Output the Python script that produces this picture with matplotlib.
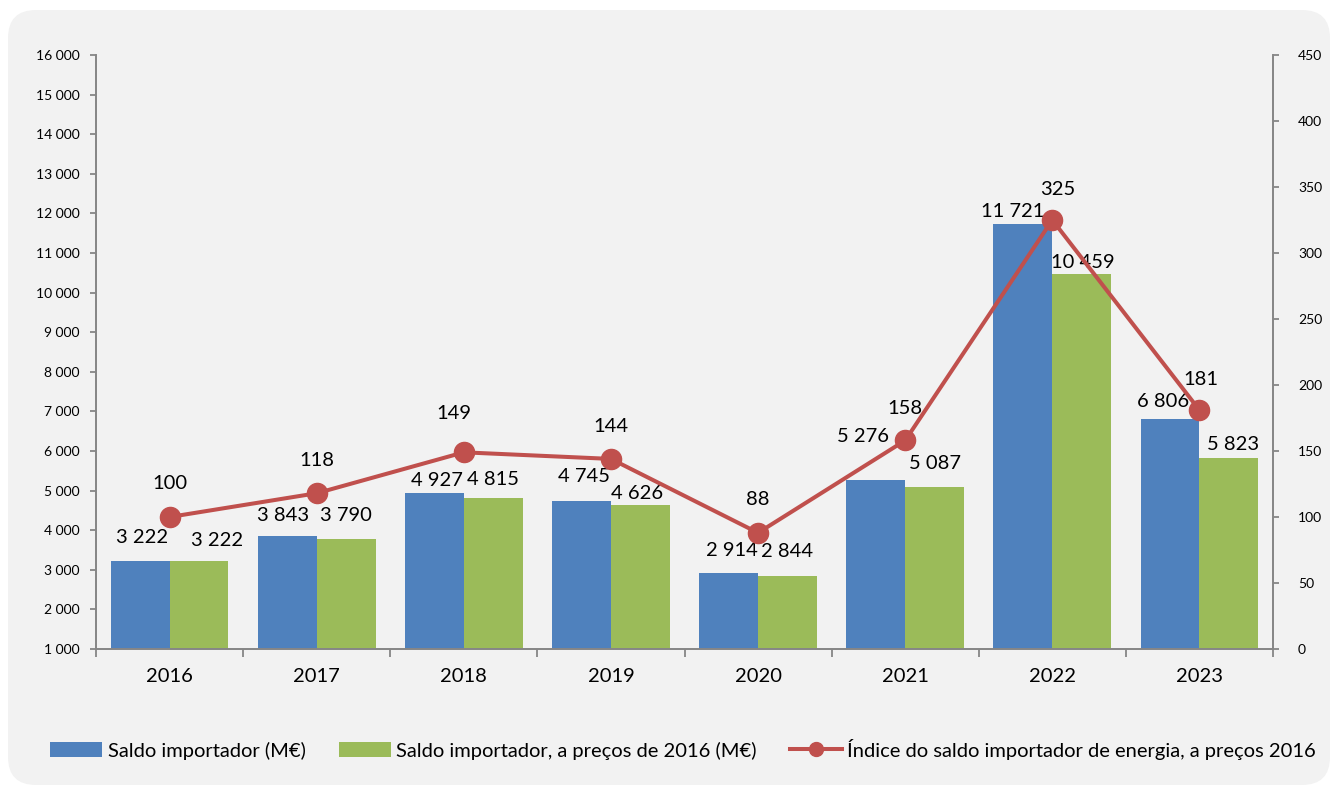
import matplotlib
matplotlib.use("Agg")
import matplotlib.pyplot as plt
from matplotlib.patches import FancyBboxPatch
from matplotlib.lines import Line2D
from matplotlib.patches import Patch
import numpy as np

plt.rcParams['font.family'] = ['Lato', 'DejaVu Sans']

anos = ['2016', '2017', '2018', '2019', '2020', '2021', '2022', '2023']
saldo = [3222, 3843, 4927, 4745, 2914, 5276, 11721, 6806]
saldo_2016 = [3222, 3790, 4815, 4626, 2844, 5087, 10459, 5823]
indice = [100, 118, 149, 144, 88, 158, 325, 181]

# label nudges in pixels (dx, dy) so the numbers don't collide with the line
off_saldo = [(2, 24), (-4, 21), (3, 13), (2, 24), (3, 23), (-13, 43), (-10, 13), (-7, 18)]
off_saldo16 = [(18, 21), (0, 23), (0, 18), (-3, 12), (0, 24), (0, 24), (1, 12), (4, 14)]
off_indice = [(0, 34), (0, 33), (-10, 39), (0, 32), (0, 33), (0, 32), (5, 31), (1, 31)]

AZUL = '#4f81bd'
VERDE = '#9bbb59'
VERMELHO = '#c0504d'
CINZA = '#868686'

def fmt(v):
    return f"{v:,}".replace(",", " ")

W, H = 1334, 789
fig = plt.figure(figsize=(W / 100, H / 100), dpi=100)
fig.patch.set_facecolor('white')

# rounded grey panel behind everything
fundo = FancyBboxPatch((0.08, 0.04), 13.22, 7.75,
                       boxstyle="round,pad=0,rounding_size=0.28",
                       transform=fig.dpi_scale_trans,
                       facecolor='#f2f2f2', edgecolor='none', zorder=-10)
fig.patches.append(fundo)

ax1 = fig.add_axes([96 / W, (H - 649) / H, (1273 - 96) / W, 594 / H])
ax1.set_facecolor('none')
ax2 = ax1.twinx()
ax2.set_facecolor('none')

x = np.arange(len(anos))
larg = 0.4
b1 = ax1.bar(x - larg / 2, [v - 1000 for v in saldo], larg, bottom=1000, color=AZUL, zorder=2)
b2 = ax1.bar(x + larg / 2, [v - 1000 for v in saldo_2016], larg, bottom=1000, color=VERDE, zorder=2)

for i in range(len(anos)):
    ax1.annotate(fmt(saldo[i]), (x[i] - larg / 2, saldo[i]), xytext=off_saldo[i],
                 textcoords='offset pixels', ha='center', va='center', fontsize=14.5)
    ax1.annotate(fmt(saldo_2016[i]), (x[i] + larg / 2, saldo_2016[i]), xytext=off_saldo16[i],
                 textcoords='offset pixels', ha='center', va='center', fontsize=14.5)

ax2.plot(x, indice, color=VERMELHO, lw=2.9, marker='o', markersize=14.5, zorder=3)
for i in range(len(anos)):
    ax2.annotate(str(indice[i]), (x[i], indice[i]), xytext=off_indice[i],
                 textcoords='offset pixels', ha='center', va='center', fontsize=14.5)

ax1.set_xlim(-0.5, len(anos) - 0.5)
ax1.set_ylim(1000, 16000)
ax2.set_ylim(0, 450)

ax1.set_yticks(range(1000, 16001, 1000))
ax1.set_yticklabels([fmt(v) for v in range(1000, 16001, 1000)])
ax2.set_yticks(range(0, 451, 50))

ax1.set_xticks(x)
ax1.set_xticklabels(anos)
ax1.set_xticks(np.arange(-0.5, len(anos), 1), minor=True)
ax1.tick_params(axis='x', which='major', length=0, pad=14, labelsize=14.5)
ax1.tick_params(axis='x', which='minor', length=6, width=1.3, color=CINZA)
ax1.tick_params(axis='y', length=4, width=1.3, color=CINZA, pad=8, labelsize=10)
ax2.tick_params(axis='y', length=4, width=1.3, color=CINZA, pad=14, labelsize=10)

for s in ['top', 'right']:
    ax1.spines[s].set_visible(False)
for s in ['top', 'left', 'bottom']:
    ax2.spines[s].set_visible(False)
for sp in [ax1.spines['left'], ax1.spines['bottom'], ax2.spines['right']]:
    sp.set_color(CINZA)
    sp.set_linewidth(1.4)

handles = [Patch(facecolor=AZUL), Patch(facecolor=VERDE),
           Line2D([], [], color=VERMELHO, lw=2.9, marker='o', markersize=10)]
labels = ['Saldo importador (M€)', 'Saldo importador, a preços de 2016 (M€)',
          'Índice do saldo importador de energia, a preços 2016']
fig.legend(handles, labels, loc='center', bbox_to_anchor=(683 / W, (H - 749) / H),
           ncol=3, frameon=False, fontsize=14.5, handlelength=2.6, handleheight=0.7,
           handletextpad=0.25, columnspacing=1.65)

fig.savefig('out.png', dpi=100, facecolor='white')
